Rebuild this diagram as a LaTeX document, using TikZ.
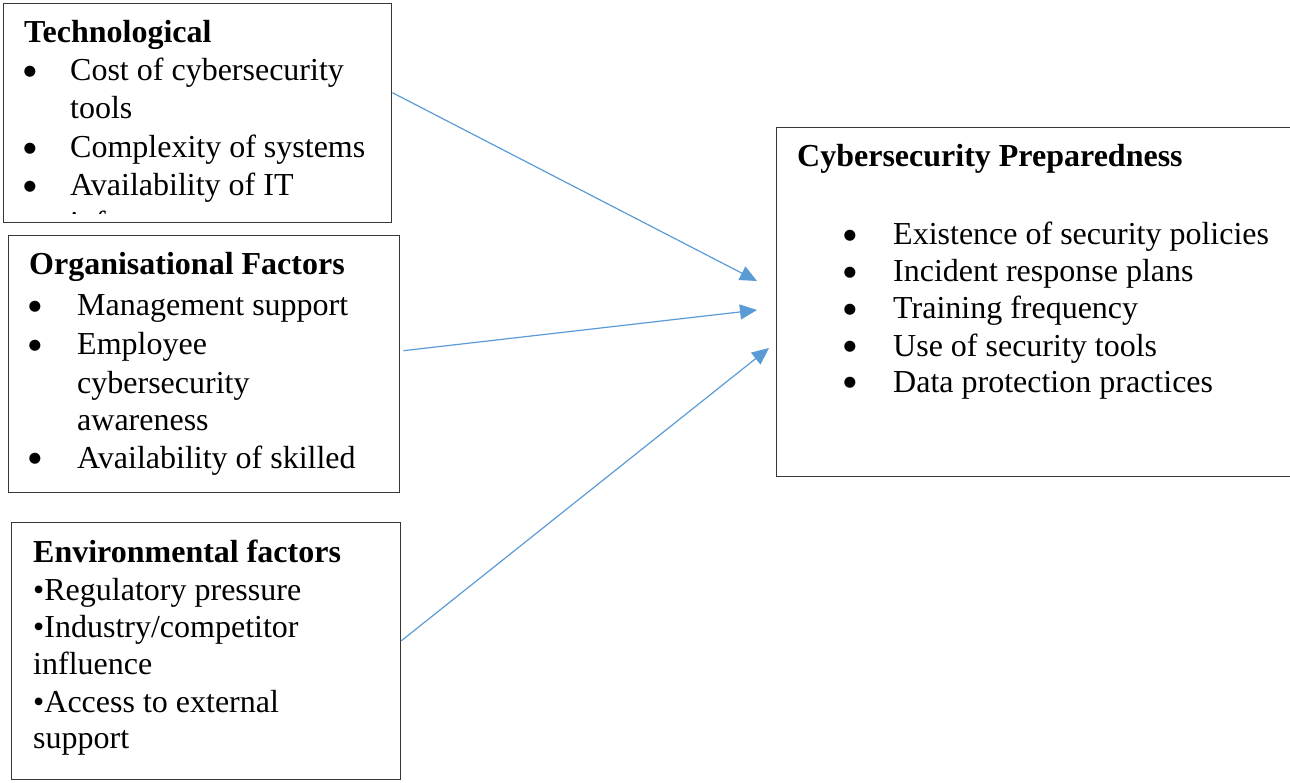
\documentclass[tikz,border=0pt]{standalone}
\usepackage{fontspec}
\setmainfont{Liberation Serif}
\newfontfamily\bulfont{DejaVu Sans}
\usetikzlibrary{arrows.meta}
\definecolor{arrowblue}{RGB}{91,155,213}
\definecolor{boxgray}{RGB}{55,55,55}
\begin{document}
\begin{tikzpicture}[x=1pt,y=-1pt,
  box/.style={draw=boxgray,line width=1.4pt,anchor=north west,inner sep=0pt},
  txt/.style={anchor=base west,inner sep=0pt,font=\fontsize{32}{38}\selectfont},
  ttl/.style={anchor=base west,inner sep=0pt,font=\fontsize{32}{38}\selectfont\bfseries},
  bul/.style={anchor=center,inner sep=0pt,yshift=9.5pt,font=\bulfont\fontsize{14.5}{14.5}\selectfont},
  link/.style={draw=arrowblue,line width=1.2pt,-{Triangle[length=17pt,width=15pt]}}]
\useasboundingbox (0,0) rectangle (1290,783);
% boxes
\node[box,minimum width=388pt,minimum height=219pt] (tech) at (3,3) {};
\node[box,minimum width=391pt,minimum height=257pt] (org) at (8,235) {};
\node[box,minimum width=389pt,minimum height=257pt] (env) at (11,522) {};
\node[box,minimum width=514pt,minimum height=349pt] (prep) at (776,127) {};
% technological
\begin{scope}
\clip (3,3) rectangle (391,213.5);
\node[ttl] (t0) at (24,43) {Technological};
\node[bul] (t1b) at (30,81) {●};
\node[txt] (t1) at (70,81) {Cost of cybersecurity};
\node[txt] (t1c) at (70,119) {tools};
\node[bul] (t2b) at (30,158) {●};
\node[txt] (t2) at (70,158) {Complexity of systems};
\node[bul] (t3b) at (30,196) {●};
\node[txt] (t3) at (70,196) {Availability of IT};
\node[txt] (t3c) at (70,234) {infrastructure};
\end{scope}
% organisational
\node[ttl] (o0) at (29,275) {Organisational Factors};
\node[bul] (o1b) at (35,316) {●};
\node[txt] (o1) at (77,316) {Management support};
\node[bul] (o2b) at (35,355) {●};
\node[txt] (o2) at (77,355) {Employee};
\node[txt] (o2c) at (77,393) {cybersecurity};
\node[txt] (o2d) at (77,430) {awareness};
\node[bul] (o3b) at (35,468) {●};
\node[txt] (o3) at (77,468) {Availability of skilled};
% environmental
\node[ttl] (e0) at (33,562) {Environmental factors};
\node[txt] (e1) at (33,600) {•Regulatory pressure};
\node[txt] (e2) at (33,637) {•Industry/competitor};
\node[txt] (e2c) at (33,674) {influence};
\node[txt] (e3) at (33,712) {•Access to external};
\node[txt] (e3c) at (33,748) {support};
% preparedness
\node[ttl] (p0) at (797,167) {Cybersecurity Preparedness};
\node[bul] (p1b) at (850,245) {●};
\node[txt] (p1) at (893,245) {Existence of security policies};
\node[bul] (p2b) at (850,282) {●};
\node[txt] (p2) at (893,282) {Incident response plans};
\node[bul] (p3b) at (850,319) {●};
\node[txt] (p3) at (893,319) {Training frequency};
\node[bul] (p4b) at (850,356) {●};
\node[txt] (p4) at (893,356) {Use of security tools};
\node[bul] (p5b) at (850,392) {●};
\node[txt] (p5) at (893,392) {Data protection practices};
% arrow ends
\coordinate (a1) at (757,281);
\coordinate (a2) at (757,310);
\coordinate (a3) at (769,348);
\draw[link] ([yshift=20.5pt]tech.east) -- (a1);
\draw[link] ([xshift=3pt,yshift=13.5pt]org.east) -- (a2);
\draw[link] ([yshift=10.5pt]env.east) -- (a3);
\end{tikzpicture}
\end{document}
